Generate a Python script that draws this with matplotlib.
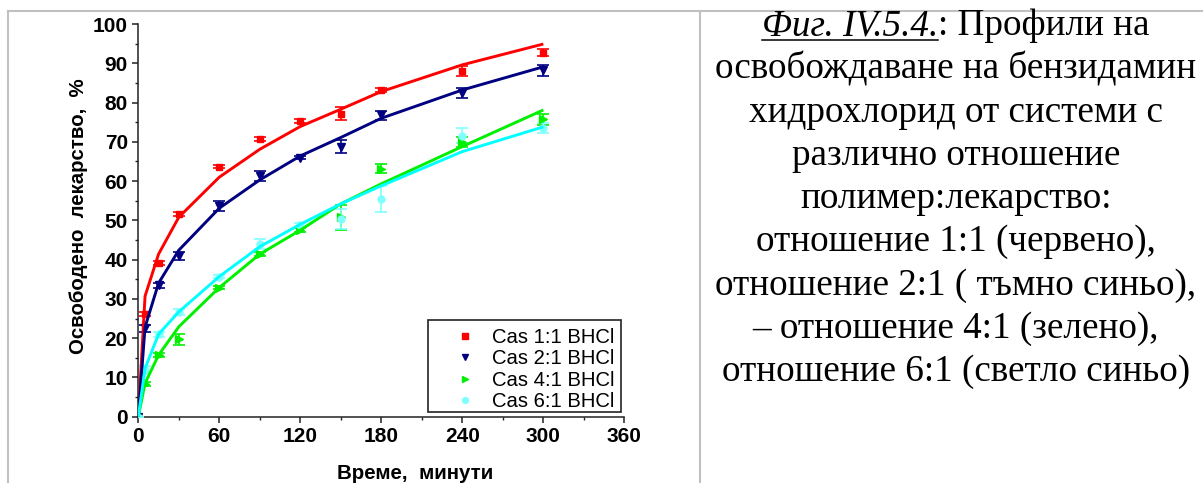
import matplotlib
matplotlib.use("Agg")
import matplotlib.pyplot as plt
from matplotlib.lines import Line2D
from matplotlib.patches import Rectangle
from matplotlib.ticker import MultipleLocator

# ---- data -------------------------------------------------------------
time_min = [0, 5, 15, 30, 60, 90, 120, 150, 180, 240, 300]

labels = ["Cas 1:1 BHCl", "Cas 2:1 BHCl", "Cas 4:1 BHCl", "Cas 6:1 BHCl"]

red_obs = [0, 26.1, 39.2, 51.6, 63.7, 70.7, 75.4, 77.2, 83.2, 88.0, 92.7]
red_err = [0, 0.5, 0.5, 0.6, 0.4, 0.4, 0.5, 1.6, 0.4, 1.3, 0.9]
red_fit = [0, 30.7, 41.4, 50.8, 61.0, 68.1, 73.9, 78.3, 82.8, 89.6, 94.9]

navy_obs = [0, 22.5, 33.5, 41.0, 53.6, 61.3, 66.0, 68.8, 76.7, 82.4, 88.2]
navy_err = [0, 0.9, 0.6, 1.0, 1.3, 1.2, 0.5, 1.7, 1.2, 1.2, 1.4]
navy_fit = [0, 22.8, 34.0, 42.4, 53.1, 60.3, 66.4, 71.1, 76.0, 83.2, 89.1]

green_obs = [0, 8.3, 15.7, 19.7, 32.9, 41.4, 47.5, 50.8, 63.2, 69.9, 75.7]
green_err = [0, 0.6, 0.6, 1.4, 0.5, 0.5, 0.5, 3.2, 1.2, 1.3, 1.4]
green_fit = [0, 8.5, 15.7, 22.9, 32.9, 41.4, 47.5, 54.2, 59.3, 68.8, 78.1]

cyan_obs = [0, 11.8, 21.0, 26.6, 35.7, 44.0, 48.8, 50.4, 55.4, 71.6, 73.5]
cyan_err = [0, 1.0, 0.6, 0.7, 0.5, 1.2, 0.5, 2.6, 3.4, 2.0, 1.2]
cyan_fit = [0, 12.3, 21.0, 26.7, 35.7, 43.3, 49.0, 54.2, 58.8, 67.5, 73.8]

x_ticks = [0, 60, 120, 180, 240, 300, 360]
y_ticks = [0, 10, 20, 30, 40, 50, 60, 70, 80, 90, 100]

caption_first_italic = "Фиг. IV.5.4."
caption_first_rest = ": Профили на"
caption_lines = [
    "освобождаване на бензидамин",
    "хидрохлорид от системи с",
    "различно отношение",
    "полимер:лекарство:",
    "отношение 1:1 (червено),",
    "отношение 2:1 ( тъмно синьо),",
    "– отношение 4:1 (зелено),",
    "отношение 6:1 (светло синьо)",
]

# ---- figure ------------------------------------------------------------
W, H = 1203, 483
fig = plt.figure(figsize=(W / 100, H / 100), dpi=100)
fig.patch.set_facecolor("white")

ax = fig.add_axes([138.3 / W, 1 - 416.7 / H, (624.3 - 138.3) / W, (416.7 - 24) / H])

series = [
    (red_obs, red_err, red_fit, "#ff0000", "#ff0000", "s", 4.5),
    (navy_obs, navy_err, navy_fit, "#000080", "#000080", "v", 5.5),
    (green_obs, green_err, green_fit, "#00f000", "#00f000", ">", 5.5),
    (cyan_obs, cyan_err, cyan_fit, "#00ffff", "#80ffff", "o", 5.0),
]

for obs, err, fit, lc, mc, mk, ms in series:
    ax.errorbar(time_min, obs, yerr=err, fmt=mk, color=mc, ms=ms, mec=mc,
                ecolor=mc, elinewidth=1.2, capsize=4, capthick=1.2, zorder=3)
for obs, err, fit, lc, mc, mk, ms in series:
    ax.plot(time_min, fit, color=lc, lw=2.1, zorder=4, solid_capstyle="butt")

ax.set_xlim(0, 360)
ax.set_ylim(0, 100)
ax.set_xticks(x_ticks)
ax.set_yticks(y_ticks)
ax.xaxis.set_minor_locator(MultipleLocator(30))
ax.yaxis.set_minor_locator(MultipleLocator(5))
for s in ["top", "right"]:
    ax.spines[s].set_visible(False)
for s in ["left", "bottom"]:
    ax.spines[s].set_linewidth(1.1)
    ax.spines[s].set_color("#222222")
ax.tick_params(which="major", direction="out", length=4.5, width=1.1,
               color="#222222", labelsize=15, pad=3)
ax.tick_params(which="minor", direction="out", length=2.5, width=1.0, color="#222222")
for lab in ax.get_xticklabels() + ax.get_yticklabels():
    lab.set_fontweight("bold")
    lab.set_fontfamily("Liberation Sans")

ax.set_xlabel("Време,  минути", fontsize=14.8, fontweight="bold",
              fontfamily="Liberation Sans")
ax.xaxis.set_label_coords((415 - 138.3) / (624.3 - 138.3), -(479 - 416.7) / (416.7 - 24))
ax.xaxis.label.set_va("baseline")
ax.set_ylabel("Освободено  лекарство,  %", fontsize=14.7, fontweight="bold",
              fontfamily="Liberation Sans")
ax.yaxis.label.set_va("center")
ax.yaxis.set_label_coords(-(138.3 - 79) / (624.3 - 138.3), (416.7 - 216) / (416.7 - 24))

# legend box (frame drawn separately so the last row can touch its edge)
ax.add_patch(Rectangle((428 / W, 1 - 412 / H), (621 - 428) / W, (412 - 320) / H,
                       transform=fig.transFigure, facecolor="white",
                       edgecolor="#222222", lw=1.2, zorder=5, clip_on=False))
handles = [Line2D([], [], ls="none", marker=mk, color=mc, ms=ms * 0.85)
           for obs, err, fit, lc, mc, mk, ms in series]
leg = ax.legend(handles, labels, loc="upper left",
                bbox_to_anchor=(455 / W, 1 - 328 / H), bbox_transform=fig.transFigure,
                prop={"family": "Liberation Sans", "size": 14.6},
                frameon=False, borderpad=0.0, labelspacing=0.12, handletextpad=0.8,
                handlelength=1.0, borderaxespad=0.0)
leg.set_zorder(7)

# ---- table frame -------------------------------------------------------
gc = "#c0c0c0"
fig.add_artist(Line2D([8 / W, 8 / W], [1 - 11 / H, 0], transform=fig.transFigure, color=gc, lw=1.5))
fig.add_artist(Line2D([699.5 / W, 699.5 / W], [1 - 11 / H, 0], transform=fig.transFigure, color=gc, lw=1.5))
fig.add_artist(Line2D([8 / W, 1], [1 - 11 / H, 1 - 11 / H], transform=fig.transFigure, color=gc, lw=1.5))

# ---- caption -----------------------------------------------------------
cx = 956
fs = 26.7
fam = "Liberation Serif"
baselines = [35 + 43.25 * i for i in range(9)]

fig.canvas.draw()
r = fig.canvas.get_renderer()
t1 = fig.text(0, 1 - baselines[0] / H, caption_first_italic, fontsize=fs, family=fam,
              style="italic", va="baseline", ha="left")
t2 = fig.text(0, 1 - baselines[0] / H, caption_first_rest, fontsize=fs, family=fam,
              va="baseline", ha="left")
w1 = t1.get_window_extent(r).width
w2 = t2.get_window_extent(r).width
x0 = cx - (w1 + w2) / 2
t1.set_x(x0 / W)
t2.set_x((x0 + w1) / W)
yu = 1 - (baselines[0] + 5) / H
fig.add_artist(Line2D([x0 / W, (x0 + w1) / W], [yu, yu], transform=fig.transFigure,
                      color="black", lw=1.1))

for line, b in zip(caption_lines, baselines[1:]):
    fig.text(cx / W, 1 - b / H, line, fontsize=fs, family=fam, va="baseline", ha="center")

fig.savefig("out.png", dpi=100)
